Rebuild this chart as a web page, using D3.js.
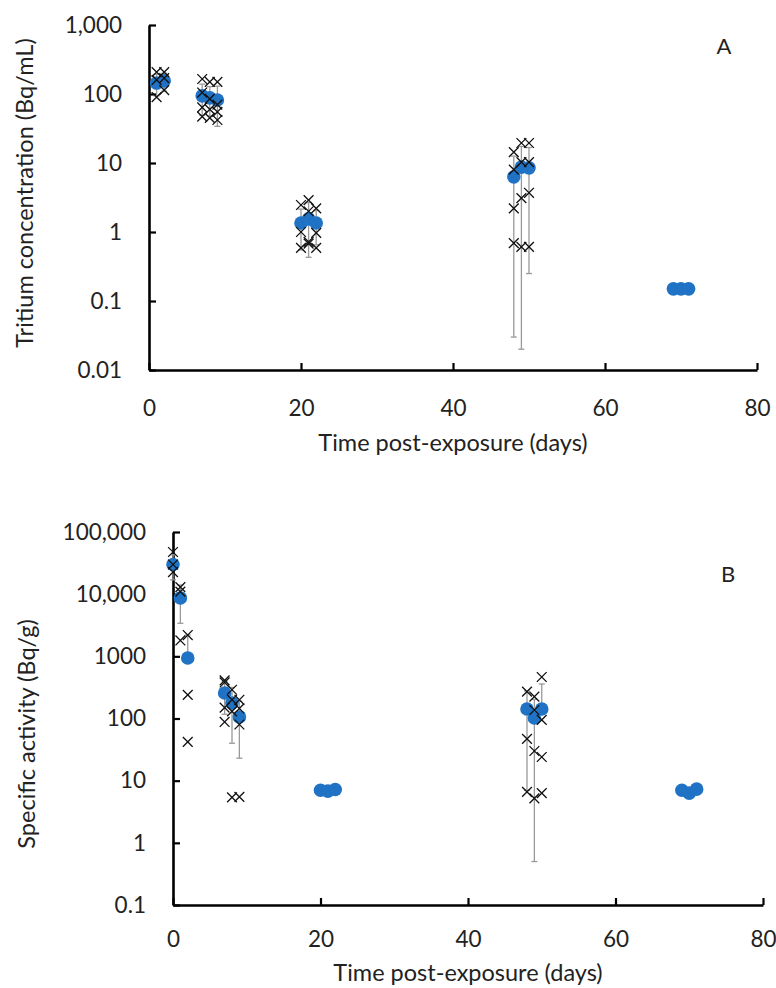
<!DOCTYPE html>
<html><head><meta charset="utf-8">
<script src="https://cdn.jsdelivr.net/npm/d3@7"></script>
<style>
html,body{margin:0;padding:0;background:#fff;}
svg text{font-family:Lato,"Open Sans",sans-serif;fill:#222;}
</style></head>
<body>
<svg id="chart" width="776" height="988"></svg>
<script>
// ---------- Panel A data ----------
const daysA = [1, 2, 7, 8, 9, 20, 21, 22, 48, 49, 50, 69, 70, 71];
const meanA = [144, 155, 94, 88, 82, 1.35, 1.55, 1.35, 6.3, 8.7, 8.5, 0.15, 0.15, 0.15];
const sdA   = [50, 45, 45, 40, 48, 0.8, 1.12, 0.7, 6.27, 8.68, 8.25, 0, 0, 0];
const indivA = [
  [208, 160, 90], [208, 170, 114],
  [165, 105, 64, 47], [150, 85, 60, 45], [150, 70, 55, 42],
  [2.46, 1.0, 0.59], [2.9, 2.0, 0.72, 0.68], [2.2, 0.97, 0.59],
  [14.4, 8, 2.2, 0.69], [19.5, 10.3, 3.1, 0.61], [19.5, 10.3, 3.7, 0.61],
  [], [], []
];
const yTicksA = [0.01, 0.1, 1, 10, 100, 1000];
const yLabelsA = ["0.01", "0.1", "1", "10", "100", "1,000"];

// ---------- Panel B data ----------
const daysB = [0, 1, 2, 7, 8, 9, 20, 21, 22, 48, 49, 50, 69, 70, 71];
const meanB = [30000, 8700, 940, 257, 178, 106, 7, 6.8, 7.2, 142, 102, 142, 7, 6.3, 7.3];
const sdB   = [13000, 5300, 1260, 140, 138, 83, 0, 0, 0, 135, 101.5, 217, 0, 0, 0];
const indivB = [
  [47700, 30000, 22700], [13000, 11000, 1800], [2200, 240, 42],
  [410, 380, 150, 88], [290, 200, 130, 5.4], [200, 145, 80, 5.5],
  [], [], [],
  [270, 47, 6.6], [225, 137, 30, 5.2], [465, 95, 24, 6.3],
  [], [], []
];
const yTicksB = [0.1, 1, 10, 100, 1000, 10000, 100000];
const yLabelsB = ["0.1", "1", "10", "100", "1000", "10,000", "100,000"];

const xTicks = [0, 20, 40, 60, 80];
const xTitle = "Time post-exposure (days)";

const svg = d3.select("#chart");

function panel(cfg) {
  const x = d3.scaleLinear().domain([0, 80]).range([cfg.x0, cfg.x1]);
  const y = d3.scaleLog().domain(cfg.ydom).range([cfg.y1, cfg.y0]);
  const g = svg.append("g");

  const ax = g.append("g").attr("transform", `translate(0,${cfg.y1})`)
    .call(d3.axisBottom(x).tickValues(xTicks).tickFormat(d3.format("d"))
      .tickSizeInner(-7).tickSizeOuter(0).tickPadding(cfg.xpad));
  const ay = g.append("g").attr("transform", `translate(${cfg.x0},0)`)
    .call(d3.axisLeft(y).tickValues(cfg.yticks).tickFormat((d, i) => cfg.ylabels[i])
      .tickSizeInner(-7).tickSizeOuter(0).tickPadding(27));
  [ax, ay].forEach(a => {
    a.selectAll("path.domain").attr("stroke", "#000").attr("stroke-width", 2.6);
    a.selectAll(".tick line").attr("stroke", "#000").attr("stroke-width", 2.2);
    a.selectAll("text").style("font-size", "22.5px").attr("fill", "#222");
  });

  const eb = g.append("g").attr("stroke", "#999").attr("stroke-width", 1.3).attr("fill", "none");
  cfg.days.forEach((d, i) => {
    const s = cfg.sd[i];
    if (!s) return;
    const m = cfg.mean[i];
    const cx = x(d);
    const hi = m + s, lo = m - s;
    eb.append("line").attr("x1", cx).attr("x2", cx).attr("y1", y(m)).attr("y2", y(hi));
    eb.append("line").attr("x1", cx - 3).attr("x2", cx + 3).attr("y1", y(hi)).attr("y2", y(hi));
    if (lo > 0) {
      eb.append("line").attr("x1", cx).attr("x2", cx).attr("y1", y(m)).attr("y2", y(lo));
      eb.append("line").attr("x1", cx - 3).attr("x2", cx + 3).attr("y1", y(lo)).attr("y2", y(lo));
    }
  });

  g.append("g").selectAll("circle").data(cfg.days).join("circle")
    .attr("cx", d => x(d)).attr("cy", (d, i) => y(cfg.mean[i]))
    .attr("r", 6.8).attr("fill", "#1f72c4");

  const pts = [];
  cfg.days.forEach((d, i) => cfg.indiv[i].forEach(v => pts.push([d, v])));
  const sym = d3.symbol().type(d3.symbolX).size(64);
  g.append("g").selectAll("path").data(pts).join("path")
    .attr("transform", p => `translate(${x(p[0])},${y(p[1])})`)
    .attr("d", sym).attr("stroke", "#111").attr("stroke-width", 1.3).attr("fill", "none");

  g.append("text").attr("x", (cfg.x0 + cfg.x1) / 2).attr("y", cfg.xtitleY)
    .attr("text-anchor", "middle").style("font-size", "23.5px").text(xTitle);
  g.append("text").attr("transform", `translate(${cfg.ytitleX},${cfg.ytitleY}) rotate(-90)`)
    .attr("text-anchor", "middle").style("font-size", "23.5px").text(cfg.ytitle);
  g.append("text").attr("x", cfg.letterX).attr("y", cfg.letterY)
    .attr("text-anchor", "middle").style("font-size", "22px").text(cfg.letter);
}

panel({
  x0: 149, x1: 757, y0: 25, y1: 370, ydom: [0.01, 1000],
  yticks: yTicksA, ylabels: yLabelsA, xpad: 30,
  days: daysA, mean: meanA, sd: sdA, indiv: indivA,
  xtitleY: 451, ytitleX: 33, ytitleY: 193, ytitle: "Tritium concentration (Bq/mL)",
  letter: "A", letterX: 724, letterY: 54
});

panel({
  x0: 173, x1: 763, y0: 532, y1: 905, ydom: [0.1, 100000],
  yticks: yTicksB, ylabels: yLabelsB, xpad: 26,
  days: daysB, mean: meanB, sd: sdB, indiv: indivB,
  xtitleY: 981, ytitleX: 35, ytitleY: 734, ytitle: "Specific activity (Bq/g)",
  letter: "B", letterX: 728, letterY: 582
});
</script>
</body></html>
